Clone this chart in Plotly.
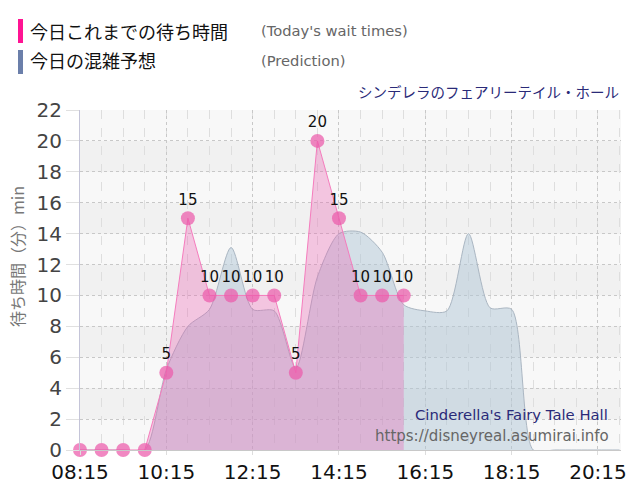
import plotly.graph_objects as go

# ---- data ----
day = "2024-01-01 "
actual_times = ["08:15", "08:45", "09:15", "09:45", "10:15", "10:45", "11:15", "11:45",
                "12:15", "12:45", "13:15", "13:45", "14:15", "14:45", "15:15", "15:45"]
actual_vals = [0, 0, 0, 0, 5, 15, 10, 10, 10, 10, 5, 20, 15, 10, 10, 10]

pred_times = ["08:15", "08:45", "09:15", "09:45", "10:15", "10:45", "11:15", "11:45",
              "12:15", "12:45", "13:15", "13:45", "14:15", "14:45", "15:15", "15:45",
              "16:15", "16:45", "17:15", "17:45", "18:15", "18:45", "19:15", "19:45",
              "20:15", "20:45"]
pred_vals = [0, 0, 0, 0, 5.2, 8.0, 9.1, 13.1, 9.1, 9.0, 5.3, 11.2, 14.0, 14.1, 12.8, 9.4,
             9.0, 9.0, 14.0, 9.2, 9.1, 0, 0, 0, 0, 0]

x_tick_labels = ["08:15", "10:15", "12:15", "14:15", "16:15", "18:15", "20:15"]
y_ticks = [0, 2, 4, 6, 8, 10, 12, 14, 16, 18, 20, 22]

legend_ja = ["今日これまでの待ち時間", "今日の混雑予想"]
legend_en = ["(Today's wait times)", "(Prediction)"]
title_ja = "シンデレラのフェアリーテイル・ホール"
title_en = "Cinderella's Fairy Tale Hall"
site_url = "https://disneyreal.asumirai.info"
y_title = "待ち時間（分）min"

# ---- layout geometry ----
W, H = 640, 500
ML, MR, MT, MB = 80, 19, 110, 50
PW, PH = W - ML - MR, H - MT - MB


def px(xp):
    return (xp - ML) / PW


def py(yp):
    return (H - MB - yp) / PH


CJK = "Noto Sans CJK JP"
LAT = "DejaVu Sans"

fig = go.Figure()

fig.add_trace(go.Scatter(
    x=[day + t for t in pred_times], y=pred_vals,
    mode="lines", line=dict(color="#aab6c2", width=1, shape="spline", smoothing=0.75),
    fill="tozeroy", fillcolor="rgba(176,198,214,0.5)",
    hoverinfo="skip", showlegend=False,
))

fig.add_trace(go.Scatter(
    x=[day + t for t in actual_times], y=actual_vals,
    mode="lines+markers+text",
    line=dict(color="#f57cbd", width=1),
    fill="tozeroy", fillcolor="rgba(235,95,175,0.33)",
    marker=dict(size=14, color="rgba(236,90,170,0.72)", line=dict(width=0)),
    text=[str(v) if v > 0 else "" for v in actual_vals],
    textposition="top center",
    textfont=dict(family=LAT, size=15, color="#111"),
    cliponaxis=False, showlegend=False,
))

shapes = []
# alternating bands (every other 2-unit interval, starting at 2)
for y0 in y_ticks[1:-1:2]:
    shapes.append(dict(type="rect", xref="paper", yref="y", x0=0, x1=1, y0=y0, y1=y0 + 2,
                       fillcolor="#f1f1f1", line=dict(width=0), layer="below"))
# legend color bars
shapes.append(dict(type="rect", xref="paper", yref="paper", x0=px(18), x1=px(23),
                   y0=py(43), y1=py(19), fillcolor="#ff1493", line=dict(width=0)))
shapes.append(dict(type="rect", xref="paper", yref="paper", x0=px(18), x1=px(23),
                   y0=py(74), y1=py(50), fillcolor="#6b7faa", line=dict(width=0)))

ann = []
for i, (ja, en) in enumerate(zip(legend_ja, legend_en)):
    yc = 31 + i * 29
    ann.append(dict(text=ja, x=px(28), y=py(yc), xref="paper", yref="paper",
                    xanchor="left", yanchor="middle", showarrow=False,
                    font=dict(family=CJK, size=18, color="#111")))
    ann.append(dict(text=en, x=px(259), y=py(yc), xref="paper", yref="paper",
                    xanchor="left", yanchor="middle", showarrow=False,
                    font=dict(family=LAT, size=14.7, color="#666")))
ann.append(dict(text=title_ja, x=px(621), y=py(91), xref="paper", yref="paper",
                xanchor="right", yanchor="middle", showarrow=False,
                font=dict(family=CJK, size=14.5, color="#2a2a78")))
ann.append(dict(text=title_en, x=px(610), y=py(414), xref="paper", yref="paper",
                xanchor="right", yanchor="middle", showarrow=False,
                font=dict(family=LAT, size=14.8, color="#2a2a78")))
ann.append(dict(text=site_url, x=px(611), y=py(436), xref="paper", yref="paper",
                xanchor="right", yanchor="middle", showarrow=False,
                font=dict(family=LAT, size=15, color="#666")))
ann.append(dict(text=y_title, x=px(17), y=py(257), xref="paper", yref="paper",
                xanchor="center", yanchor="middle", showarrow=False, textangle=-90,
                font=dict(family=CJK, size=16, color="#777")))

fig.update_layout(
    width=W, height=H,
    margin=dict(l=ML, r=MR, t=MT, b=MB, pad=0),
    paper_bgcolor="white", plot_bgcolor="#f8f8f8",
    shapes=shapes, annotations=ann,
    xaxis=dict(
        type="date",
        range=[day + "08:15", day + "20:47"],
        tickvals=[day + t for t in x_tick_labels],
        ticktext=x_tick_labels,
        tickfont=dict(family=LAT, size=20, color="#111"),
        showgrid=True, gridcolor="#c8c8c8", griddash="dot", gridwidth=1,
        minor=dict(dtick=30 * 60 * 1000, tick0=day + "08:15", showgrid=True,
                   gridcolor="#dedede", griddash="dash", gridwidth=1),
        showline=True, linecolor="#c8c8c8", linewidth=1,
        ticks="outside", ticklen=4, tickcolor="#dddddd",
        zeroline=False, fixedrange=True,
    ),
    yaxis=dict(
        range=[0, 22],
        tickvals=y_ticks,
        tickfont=dict(family=LAT, size=20, color="#444"),
        showgrid=True, gridcolor="#c8c8c8", griddash="dot", gridwidth=1,
        showline=True, linecolor="#c4c4d8", linewidth=1,
        ticks="outside", ticklen=13, tickcolor="#e0e0e0",
        zeroline=False, fixedrange=True,
    ),
)

fig.write_html("out.html")
